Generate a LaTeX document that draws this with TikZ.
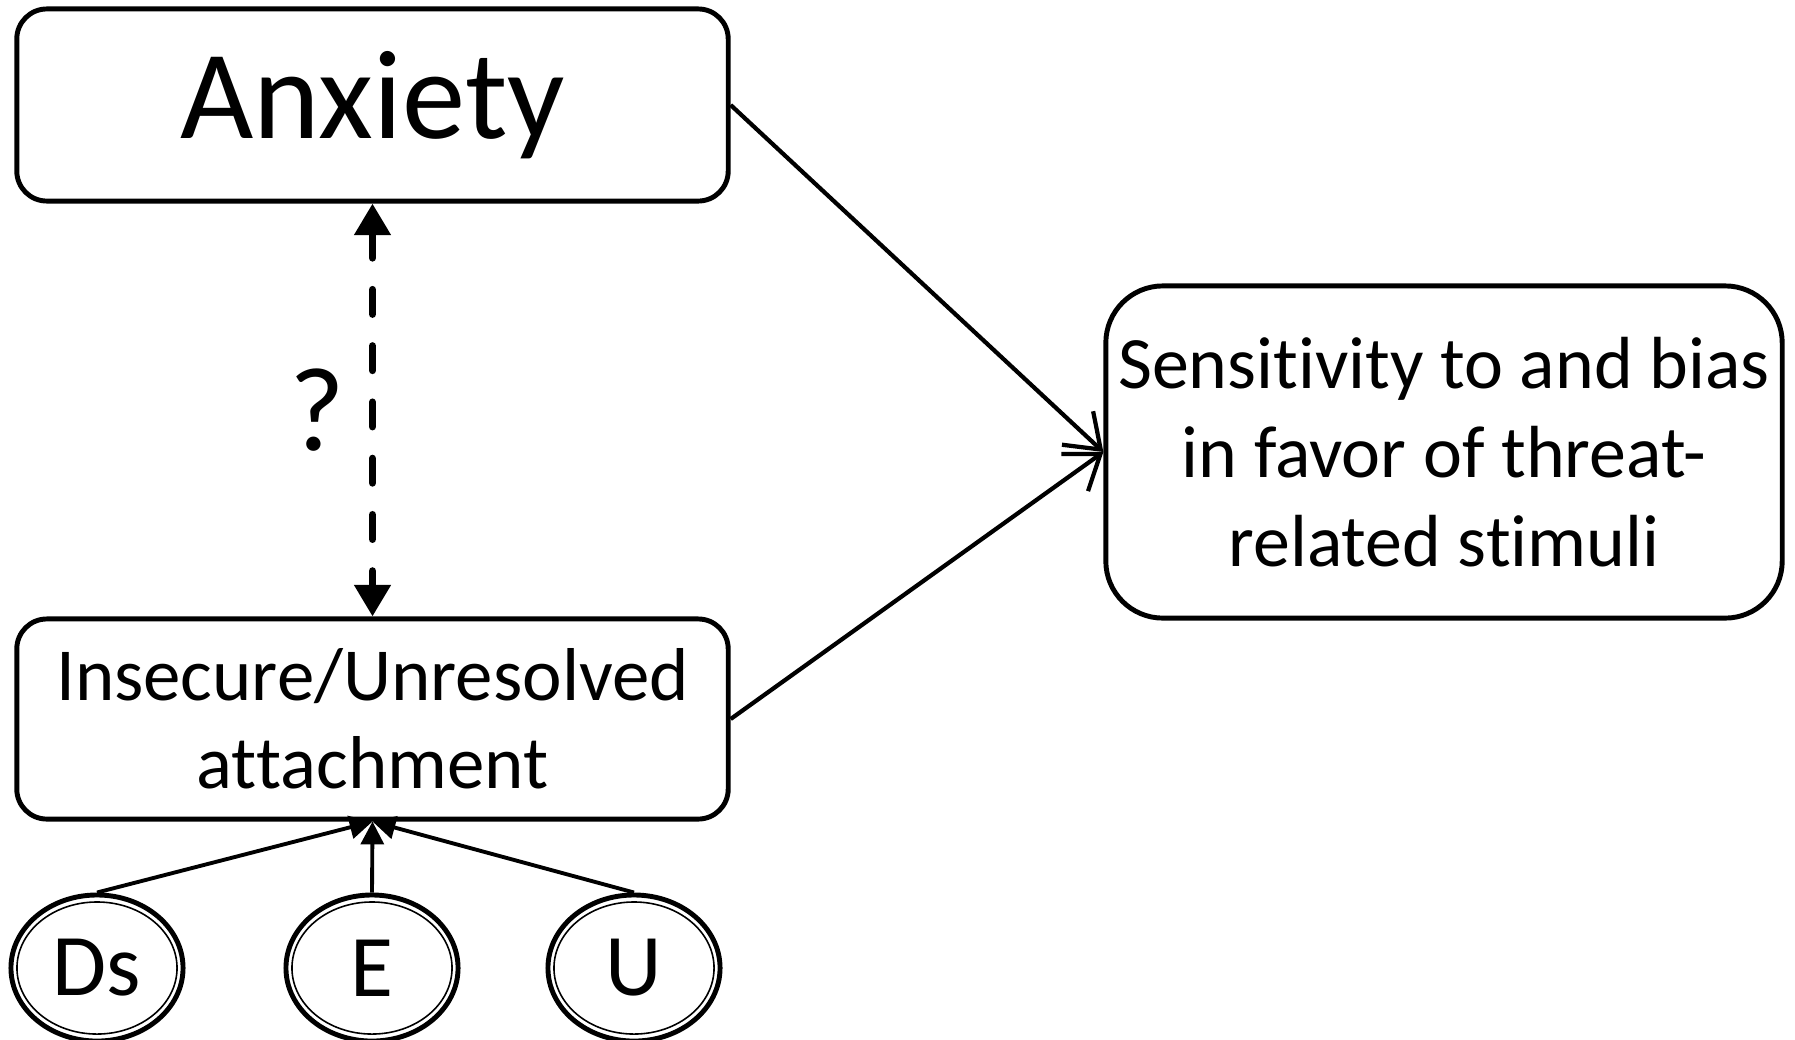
\documentclass[tikz,border=0pt]{standalone}
\usepackage{fontspec}
\setmainfont[Ligatures=NoCommon]{Carlito}
\usetikzlibrary{arrows.meta,positioning,shapes.geometric}
\newcommand\nolig{\kern0pt}

\tikzset{
  box/.style={draw,line width=1.4pt,inner sep=0pt,align=center},
  latent/.style={draw,ellipse,line width=1.4pt,inner sep=0pt,
    minimum width=1.72cm,minimum height=1.46cm,
    font=\fontsize{25}{28}\selectfont},
  inner ring/.style={line width=0.45pt},
  effect/.style={line width=1.2pt,-{Straight Barb[length=9pt,width=13pt]}},
  load/.style={line width=1.1pt,-{Triangle[length=6.5pt,width=6.5pt]}},
  assoc/.style={line width=2.1pt,line cap=round,dash pattern=on 7pt off 9pt,
    {Triangle[length=9pt,width=10pt,line cap=butt]}-{Triangle[length=9pt,width=10pt,line cap=butt]}}
}

\begin{document}
\begin{tikzpicture}[x=0.01cm,y=-0.01cm]
\useasboundingbox (0,0) rectangle (1795,1039);

% boxes
\node[box,rounded corners=0.3cm,minimum width=7.11cm,minimum height=1.92cm,
  font=\fontsize{36}{40}\selectfont] (anx) at (372.5,105) {Anxiety};
\node[box,rounded corners=0.3cm,minimum width=7.11cm,minimum height=2.00cm,
  font=\fontsize{21.3}{25}\selectfont] (att) at (372.5,719) {Insecure/Unresolved\\at\nolig tachment};
\node[box,rounded corners=0.57cm,minimum width=6.76cm,minimum height=3.32cm,
  font=\fontsize{21}{25.2}\selectfont] (sens) at (1444,452)
  {Sensit\nolig ivit\nolig y to and bias\\in favor of threat-\\related st\nolig imuli};

% indicators
\node[latent] (ds) at (97,968) {Ds};
\node[latent] (e) at (372,968) {E};
\node[latent] (u) at (634,968) {U};
\foreach \n in {ds,e,u}
  \draw[inner ring] (\n.center) ellipse (0.80cm and 0.66cm);

% connectors
\draw[effect] (anx.east) -- (sens.west);
\draw[effect] (att.east) -- (sens.west);
\draw[assoc] (anx.south) -- node[left=0.12cm,font=\fontsize{34}{38}\selectfont] (q) {?} (att.north);
\foreach \n in {ds,e,u}
  \draw[load] (\n.north) -- (att.south);
\end{tikzpicture}
\end{document}
